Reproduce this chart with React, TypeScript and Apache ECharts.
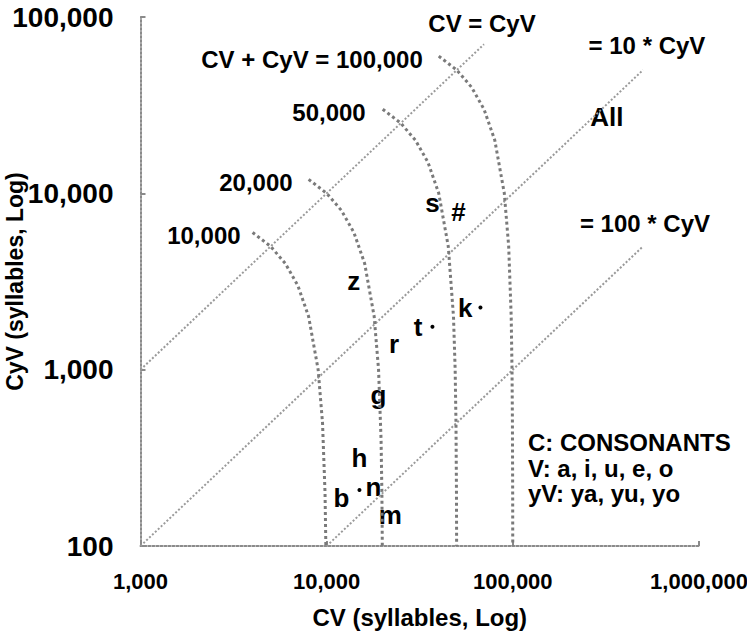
import React, { useEffect, useRef } from "react";
import * as echarts from "echarts";

const FONT = "'Liberation Sans', Arial, Helvetica, sans-serif";

// Axis ticks
const xTickValues = [1000, 10000, 100000, 1000000];
const xTickLabels = ["1,000", "10,000", "100,000", "1,000,000"];
const yTickValues = [100, 1000, 10000, 100000];
const yTickLabels = ["100", "1,000", "10,000", "100,000"];

// Letters (consonants) : CV count, CyV count
const letters = ["s", "#", "z", "t", "k", "r", "g", "h", "b", "n", "m", "All"];
const letterCV = [37000, 51000, 14000, 37000, 67000, 23000, 19000, 15000, 12000, 15000, 22000, 320000];
const letterCyV = [8800, 7800, 3200, 1750, 2250, 1400, 720, 315, 187, 208, 150, 27000];
// letters drawn with a visible dot marker
const dottedLetters = ["t", "k", "n"];

// Reference lines
const lineEqual = [[1000, 1000], [70000, 70000]];
const lineTen = [[1000, 100], [500000, 50000]];
const lineHundred = [[10000, 100], [500000, 5000]];

// Iso-total curves CV + CyV = N
const curve10k = [[4000, 6000], [5000, 5000], [6000, 4000], [7000, 3000], [8000, 2000], [9000, 1000], [9500, 500], [9800, 200], [9900, 100]];
const curve20k = [[8000, 12000], [10000, 10000], [12000, 8000], [14000, 6000], [16000, 4000], [18000, 2000], [19000, 1000], [19600, 400], [19800, 200], [19900, 100]];
const curve50k = [[20000, 30000], [25000, 25000], [30000, 20000], [35000, 15000], [40000, 10000], [45000, 5000], [48000, 2000], [49000, 1000], [49500, 500], [49800, 200], [49900, 100]];
const curve100k = [[40000, 60000], [50000, 50000], [60000, 40000], [70000, 30000], [80000, 20000], [90000, 10000], [95000, 5000], [98000, 2000], [99000, 1000], [99500, 500], [99800, 200], [99900, 100]];
const curveLabels = ["10,000", "20,000", "50,000", "CV + CyV = 100,000"];

const legendLines = ["C: CONSONANTS", "V: a, i, u, e, o", "yV: ya, yu, yo"];

const textBase = { fontFamily: FONT, fontWeight: "bold" as const, color: "#000" };

function curveSeries(pts: number[][], label: string, dist: number) {
  return {
    type: "line",
    symbol: "circle",
    symbolSize: 0.01,
    showSymbol: true,
    silent: true,
    itemStyle: { color: "transparent" },
    lineStyle: { color: "#7a7a7a", width: 3, type: "dotted" },
    data: pts.map((p, i) =>
      i === 0
        ? {
            value: p,
            label: { show: true, position: "left", distance: dist, formatter: label, fontSize: 24, offset: [0, 3], ...textBase },
          }
        : { value: p }
    ),
  };
}

function refLine(pts: number[][], label: string, dist: number, offset: number[]) {
  return {
    type: "line",
    symbol: "circle",
    symbolSize: 0.01,
    showSymbol: true,
    silent: true,
    itemStyle: { color: "transparent" },
    lineStyle: { color: "#9a9a9a", width: 2, type: "dotted" },
    data: pts.map((p, i) =>
      i === pts.length - 1
        ? { value: p, label: { show: true, position: "top", distance: dist, offset, formatter: label, fontSize: 24, ...textBase } }
        : { value: p }
    ),
  };
}

export default function App() {
  const ref = useRef<HTMLDivElement>(null);
  useEffect(() => {
    if (!ref.current) return;
    const chart = echarts.init(ref.current, undefined, { renderer: "svg" });

    const letterData = letters.map((l, i) => {
      const dotted = dottedLetters.includes(l);
      let pos: any = "inside";
      let dist = 0;
      let off = [0, 0];
      if (l === "t") { pos = "left"; dist = 8; }
      if (l === "k") { pos = "left"; dist = 6; }
      if (l === "n") { pos = "right"; dist = 4; off = [0, -3]; }
      return {
        value: [letterCV[i], letterCyV[i]],
        symbolSize: dotted ? 4 : 0.01,
        itemStyle: { color: dotted ? "#000" : "transparent", opacity: 1 },
        label: { show: true, position: pos, distance: dist, offset: off, formatter: l, fontSize: 26, ...textBase },
      };
    });

    const option: any = {
      animation: false,
      backgroundColor: "#fff",
      grid: { left: 140.5, right: 48, top: 17, bottom: 86, containLabel: false, outerBoundsMode: "none" },
      xAxis: {
        type: "log",
        logBase: 10,
        min: 1000,
        max: 1000000,
        axisLine: { show: true, onZero: false, lineStyle: { color: "#8a8a8a", width: 2, type: "dotted" } },
        axisTick: { show: true, inside: true, length: 5, lineStyle: { color: "#8a8a8a", width: 2 } },
        splitLine: { show: false },
        minorTick: { show: false },
        axisLabel: {
          ...textBase,
          fontSize: 22,
          margin: 24,
          formatter: (v: number) => {
            const idx = xTickValues.indexOf(Math.pow(10, Math.round(Math.log10(v))));
            return idx >= 0 ? xTickLabels[idx] : "";
          },
        },
        name: "CV (syllables, Log)",
        nameLocation: "middle",
        nameGap: 59,
        nameMoveOverlap: false,
        nameTextStyle: { ...textBase, fontSize: 24 },
      },
      yAxis: {
        type: "log",
        logBase: 10,
        min: 100,
        max: 100000,
        axisLine: { show: true, onZero: false, lineStyle: { color: "#8a8a8a", width: 2, type: "dotted" } },
        axisTick: { show: true, inside: true, length: 5, lineStyle: { color: "#8a8a8a", width: 2 } },
        splitLine: { show: false },
        minorTick: { show: false },
        axisLabel: {
          ...textBase,
          fontSize: 28,
          margin: 27,
          formatter: (v: number) => {
            const idx = yTickValues.indexOf(Math.pow(10, Math.round(Math.log10(v))));
            return idx >= 0 ? yTickLabels[idx] : "";
          },
        },
        name: "CyV (syllables, Log)",
        nameLocation: "middle",
        nameGap: 114,
        nameMoveOverlap: false,
        nameTextStyle: { ...textBase, fontSize: 23 },
      },
      graphic: [
        {
          type: "text",
          left: 528,
          top: 430,
          style: {
            text: legendLines.join("\n"),
            fontSize: 24,
            fontWeight: "bold",
            fontFamily: FONT,
            fill: "#000",
            lineHeight: 25.5,
          },
        },
      ],
      series: [
        refLine(lineEqual, "CV = CyV", 9, [-2, 0]),
        refLine(lineTen, "= 10 * CyV", 13, [4, 0]),
        refLine(lineHundred, "= 100 * CyV", 11, [2, 0]),
        curveSeries(curve10k, curveLabels[0], 12),
        curveSeries(curve20k, curveLabels[1], 16),
        curveSeries(curve50k, curveLabels[2], 17),
        curveSeries(curve100k, curveLabels[3], 16),
        {
          type: "scatter",
          silent: true,
          itemStyle: { opacity: 1 },
          data: letterData,
        },
      ],
    };
    chart.setOption(option);
    return () => chart.dispose();
  }, []);
  return <div ref={ref} style={{ position: "absolute", left: 0, top: 0, width: 747, height: 632 }} />;
}
